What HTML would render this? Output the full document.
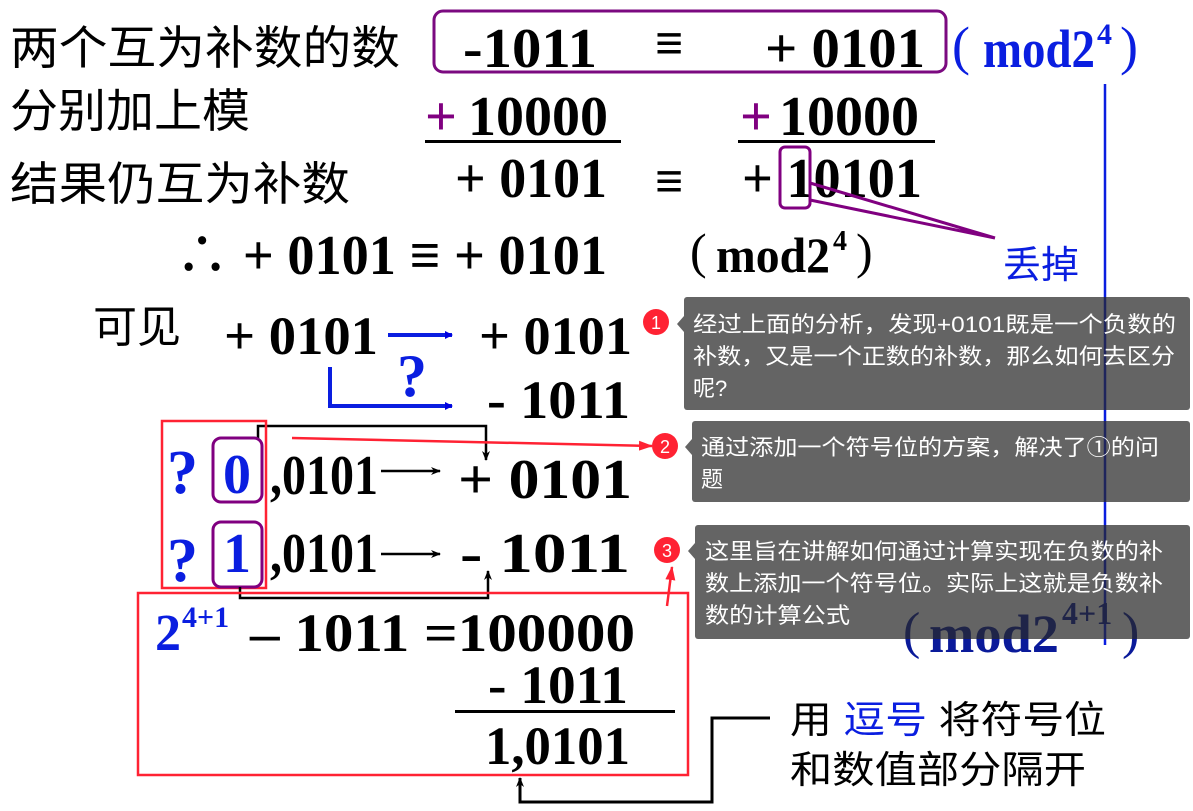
<!DOCTYPE html>
<html><head><meta charset="utf-8"><style>
html,body{margin:0;padding:0;background:#fff;}
svg{display:block}
.m{font-family:"Liberation Serif","Noto Serif CJK SC",serif;font-weight:bold}
.p{font-family:"Liberation Serif",serif}
.c{font-family:"Liberation Sans","Noto Sans CJK SC",sans-serif}
.t{font-family:"Liberation Sans","Noto Sans CJK SC",sans-serif;fill:#fff;font-size:22px}
</style></head><body>
<svg width="1193" height="811" viewBox="0 0 1193 811" xmlns="http://www.w3.org/2000/svg">
<defs>
<marker id="ab" markerWidth="8" markerHeight="8" refX="7" refY="4" orient="auto" markerUnits="userSpaceOnUse"><path d="M0,0 L8,4 L0,8 Z" fill="#0000e0"/></marker>
<marker id="ak" markerWidth="10" markerHeight="8" refX="9" refY="4" orient="auto" markerUnits="userSpaceOnUse"><path d="M0,0 L10,4 L0,8 L3,4 Z" fill="#000"/></marker>
<marker id="ar" markerWidth="14" markerHeight="10" refX="13" refY="5" orient="auto" markerUnits="userSpaceOnUse"><path d="M0,0 L14,5 L0,10 Z" fill="#f23"/></marker>
</defs>

<!-- row 1 -->
<text class="c" x="10" y="64" font-size="46" textLength="390" lengthAdjust="spacingAndGlyphs">两个互为补数的数</text>
<rect x="434" y="11" width="512" height="61" rx="9" fill="none" stroke="#7b0a80" stroke-width="3"/>
<text class="m" x="463" y="67" font-size="56" textLength="134" lengthAdjust="spacingAndGlyphs">-1011</text>
<text class="m" x="655" y="60" font-size="50">≡</text>
<text class="m" x="765" y="67" font-size="56" textLength="160" lengthAdjust="spacingAndGlyphs">+ 0101</text>
<g fill="#0a1ee0">
<text class="p" x="952" y="64" font-size="54">(</text>
<text class="m" x="983" y="67" font-size="54" textLength="112" lengthAdjust="spacingAndGlyphs">mod2</text>
<text class="m" x="1097" y="44" font-size="30">4</text>
<text class="p" x="1120" y="64" font-size="54">)</text>
</g>

<!-- row 2 -->
<text class="c" x="10" y="127" font-size="46" textLength="240" lengthAdjust="spacingAndGlyphs">分别加上模</text>
<text class="m" x="425" y="135" font-size="56" fill="#800080">+</text>
<text class="m" x="468" y="135" font-size="56" textLength="140" lengthAdjust="spacingAndGlyphs">10000</text>
<rect x="425" y="140" width="196" height="3" fill="#000"/>
<text class="m" x="740" y="135" font-size="56" fill="#800080">+</text>
<text class="m" x="779" y="135" font-size="56" textLength="140" lengthAdjust="spacingAndGlyphs">10000</text>
<rect x="738" y="140" width="197" height="3" fill="#000"/>

<!-- row 3 -->
<text class="c" x="10" y="200" font-size="46" textLength="340" lengthAdjust="spacingAndGlyphs">结果仍互为补数</text>
<text class="m" x="455" y="197" font-size="56" textLength="152" lengthAdjust="spacingAndGlyphs">+ 0101</text>
<text class="m" x="655" y="198" font-size="50">≡</text>
<text class="m" x="742" y="197" font-size="56" textLength="180" lengthAdjust="spacingAndGlyphs">+ 10101</text>
<rect x="780" y="147" width="30" height="61" rx="5" fill="none" stroke="#800080" stroke-width="3"/>
<path d="M810,183 L995,238 M810,200 L995,238" stroke="#800080" stroke-width="3" fill="none"/>
<text class="c" x="1003" y="278" font-size="38" fill="#0a1ee0">丢掉</text>
<line x1="1105" y1="84" x2="1105" y2="645" stroke="#0a1ee0" stroke-width="2.5"/>

<!-- row 4 -->
<text class="m" x="175" y="274" font-size="56" textLength="432" lengthAdjust="spacingAndGlyphs">∴ + 0101 ≡ + 0101</text>
<text class="p" x="690" y="268" font-size="50">(</text>
<text class="m" x="716" y="272" font-size="50" textLength="114" lengthAdjust="spacingAndGlyphs">mod2</text>
<text class="m" x="833" y="250" font-size="28">4</text>
<text class="p" x="856" y="268" font-size="50">)</text>

<!-- row 5 -->
<text class="c" x="93" y="342" font-size="44">可见</text>
<text class="m" x="224" y="354" font-size="54" textLength="154" lengthAdjust="spacingAndGlyphs">+ 0101</text>
<line x1="388" y1="335" x2="452" y2="335" stroke="#0a1ee0" stroke-width="4" marker-end="url(#ab)"/>
<text class="m" x="479" y="354" font-size="54" textLength="153" lengthAdjust="spacingAndGlyphs">+ 0101</text>
<text class="m" x="397" y="396" font-size="60" fill="#0a1ee0">?</text>
<path d="M330,367 L330,406 L452,406" stroke="#0a1ee0" stroke-width="4" fill="none" marker-end="url(#ab)"/>
<text class="m" x="487" y="418" font-size="54" textLength="143" lengthAdjust="spacingAndGlyphs">- 1011</text>

<!-- bracket top -->
<path d="M258,440 L258,426 L486,426 L486,460" stroke="#000" stroke-width="2.5" fill="none" marker-end="url(#ak)"/>
<rect x="162" y="421" width="104" height="167" fill="none" stroke="#f23" stroke-width="2.5"/>
<text class="m" x="167" y="493" font-size="62" fill="#0a1ee0">?</text>
<rect x="213" y="438" width="49" height="64" rx="8" fill="none" stroke="#800080" stroke-width="3"/>
<text class="m" x="223" y="493" font-size="56" fill="#0a1ee0">0</text>
<text class="m" x="270" y="494" font-size="56" textLength="108" lengthAdjust="spacingAndGlyphs">,0101</text>
<line x1="381" y1="471" x2="440" y2="471" stroke="#000" stroke-width="2.5" marker-end="url(#ak)"/>
<text class="m" x="458" y="498" font-size="56" textLength="174" lengthAdjust="spacingAndGlyphs">+ 0101</text>

<text class="m" x="167" y="581" font-size="62" fill="#0a1ee0">?</text>
<rect x="213" y="522" width="49" height="65" rx="8" fill="none" stroke="#800080" stroke-width="3"/>
<text class="m" x="223" y="572" font-size="56" fill="#0a1ee0">1</text>
<text class="m" x="270" y="572" font-size="56" textLength="108" lengthAdjust="spacingAndGlyphs">,0101</text>
<line x1="381" y1="554" x2="440" y2="554" stroke="#000" stroke-width="2.5" marker-end="url(#ak)"/>
<text class="m" x="460" y="572" font-size="56" textLength="170" lengthAdjust="spacingAndGlyphs">-  1011</text>
<path d="M240,587 L240,598 L488,598 L488,571" stroke="#000" stroke-width="2.5" fill="none" marker-end="url(#ak)"/>

<!-- bottom box -->
<rect x="138" y="593" width="550" height="182" fill="none" stroke="#f23" stroke-width="2.5"/>
<text class="m" x="155" y="650" font-size="52" fill="#0a1ee0">2</text>
<text class="m" x="182" y="627" font-size="30" fill="#0a1ee0">4+1</text>
<text class="m" x="250" y="651" font-size="54" textLength="385" lengthAdjust="spacingAndGlyphs">– 1011 =100000</text>
<text class="m" x="488" y="703" font-size="54" textLength="140" lengthAdjust="spacingAndGlyphs">- 1011</text>
<rect x="455" y="710" width="220" height="3" fill="#000"/>
<text class="m" x="485" y="764" font-size="54" textLength="145" lengthAdjust="spacingAndGlyphs">1,0101</text>
<path d="M770,718 L712,718 L712,802 L520,802 L520,778" stroke="#000" stroke-width="3" fill="none" marker-end="url(#ak)"/>
<text class="c" x="790" y="733" font-size="38" textLength="316" lengthAdjust="spacingAndGlyphs">用 <tspan fill="#0a1ee0">逗号</tspan> 将符号位</text>
<text class="c" x="790" y="783" font-size="38" textLength="296" lengthAdjust="spacingAndGlyphs">和数值部分隔开</text>

<!-- callouts -->
<rect x="684" y="297" width="506" height="113" rx="3" fill="rgba(40,40,40,0.72)"/>
<path d="M684,316 L677,324 L684,332 Z" fill="rgba(40,40,40,0.72)"/>
<text class="t" x="693" y="332" textLength="483" lengthAdjust="spacingAndGlyphs">经过上面的分析，发现+0101既是一个负数的</text>
<text class="t" x="693" y="364" textLength="482" lengthAdjust="spacingAndGlyphs">补数，又是一个正数的补数，那么如何去区分</text>
<text class="t" x="693" y="396">呢?</text>
<rect x="692" y="421" width="498" height="81" rx="3" fill="rgba(40,40,40,0.72)"/>
<path d="M692,439 L685,447 L692,455 Z" fill="rgba(40,40,40,0.72)"/>
<text class="t" x="701" y="455" textLength="458" lengthAdjust="spacingAndGlyphs">通过添加一个符号位的方案，解决了①的问</text>
<text class="t" x="701" y="487">题</text>
<g fill="#0a1a9a">
<text class="p" x="903" y="648" font-size="52">(</text>
<text class="m" x="929" y="652" font-size="54" textLength="130" lengthAdjust="spacingAndGlyphs">mod2</text>
<text class="m" x="1062" y="624" font-size="32">4+1</text>
<text class="p" x="1122" y="648" font-size="52">)</text>
</g>
<rect x="695" y="525" width="495" height="114" rx="3" fill="rgba(40,40,40,0.72)"/>
<path d="M695,543 L688,551 L695,559 Z" fill="rgba(40,40,40,0.72)"/>
<text class="t" x="705" y="559" textLength="458" lengthAdjust="spacingAndGlyphs">这里旨在讲解如何通过计算实现在负数的补</text>
<text class="t" x="705" y="591" textLength="458" lengthAdjust="spacingAndGlyphs">数上添加一个符号位。实际上这就是负数补</text>
<text class="t" x="705" y="623" textLength="145" lengthAdjust="spacingAndGlyphs">数的计算公式</text>

<!-- red markers -->
<line x1="292" y1="438" x2="652" y2="446" stroke="#f23" stroke-width="2.5" marker-end="url(#ar)"/>
<line x1="667" y1="606" x2="672" y2="567" stroke="#f23" stroke-width="2.5" marker-end="url(#ar)"/>
<circle cx="656" cy="322" r="13" fill="#f23"/><text class="c" x="656" y="329" font-size="18" fill="#fff" text-anchor="middle">1</text>
<circle cx="665" cy="446" r="13" fill="#f23"/><text class="c" x="665" y="453" font-size="18" fill="#fff" text-anchor="middle">2</text>
<circle cx="667" cy="550" r="13" fill="#f23"/><text class="c" x="667" y="557" font-size="18" fill="#fff" text-anchor="middle">3</text>
</svg>
</body></html>
